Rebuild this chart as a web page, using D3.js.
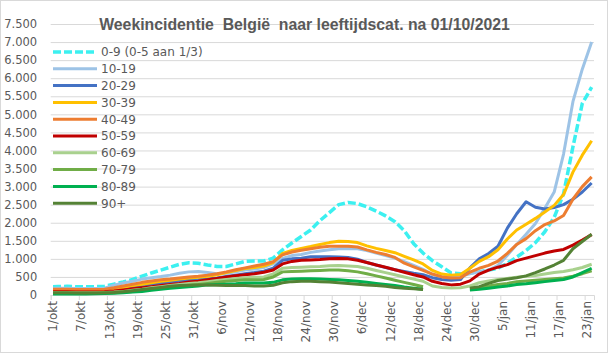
<!DOCTYPE html>
<html>
<head>
<meta charset="utf-8">
<script src="https://cdn.jsdelivr.net/npm/d3@7"></script>
<style>
  body { margin: 0; background: #fff; }
  text { font-family: 'DejaVu Sans', sans-serif; fill: #595959; }
</style>
</head>
<body>
<div class="board"></div>
<script>
// sample days (0 = 1/okt), every other day
var days = [0].concat(d3.range(1, 116, 2));

var tickLabels = ['1/okt', '7/okt', '13/okt', '19/okt', '25/okt', '31/okt', '6/nov', '12/nov', '18/nov', '24/nov',
  '30/nov', '6/dec', '12/dec', '18/dec', '24/dec', '30/dec', '5/jan', '11/jan', '17/jan', '23/jan'];

var yTicks = [0, 500, 1000, 1500, 2000, 2500, 3000, 3500, 4000, 4500, 5000, 5500, 6000, 6500, 7000, 7500];

var ageGroups = ['0-9 (0-5 aan 1/3)', '10-19', '20-29', '30-39', '40-49', '50-59', '60-69', '70-79', '80-89', '90+'];

var age0_9 = [230, 235, 240, 230, 225, 230, 240, 300, 360, 430,
  520, 610, 690, 770, 850, 890, 880, 830, 790, 790,
  860, 930, 940, 940, 1020, 1250, 1440, 1620, 1800, 2060,
  2280, 2500, 2560, 2530, 2440, 2320, 2190, 2030, 1780, 1420,
  1160, 950, 780, 610, 585, 610, 640, 690, 740, 880,
  1050, 1230, 1450, 1750, 2150, 2800, 4100, 5300, 5750];

var age10_19 = [190, 190, 185, 180, 180, 180, 190, 270, 330, 380,
  440, 480, 510, 550, 600, 640, 650, 620, 590, 600,
  640, 690, 720, 760, 860, 1010, 1090, 1120, 1180, 1220,
  1250, 1280, 1290, 1280, 1230, 1160, 1090, 1020, 920, 820,
  710, 570, 510, 490, 520, 590, 640, 680, 820, 1100,
  1400, 1680, 1980, 2400, 2850, 3900, 5350, 6250, 7000];

var age20_29 = [130, 130, 125, 120, 120, 120, 125, 150, 180, 220,
  260, 300, 330, 360, 390, 410, 420, 440, 470, 510,
  550, 590, 620, 660, 740, 960, 1000, 1020, 1060, 1060,
  1060, 1055, 1040, 990, 900, 830, 760, 700, 650, 600,
  560, 480, 430, 410, 430, 750, 1000, 1150, 1350, 1850,
  2250, 2580, 2430, 2380, 2420, 2500, 2650, 2850, 3100];

var age30_39 = [140, 140, 135, 130, 130, 130, 140, 170, 210, 260,
  300, 340, 380, 410, 440, 470, 490, 520, 560, 620,
  680, 730, 760, 800, 900, 1150, 1230, 1290, 1340, 1400,
  1450, 1490, 1480, 1450, 1360, 1290, 1230, 1170, 1070, 970,
  860, 680, 580, 550, 570, 740, 930, 1060, 1250, 1550,
  1800, 1960, 2120, 2300, 2480, 2780, 3400, 3870, 4270];

var age40_49 = [160, 160, 160, 155, 150, 150, 160, 200, 250, 300,
  350, 390, 420, 440, 470, 500, 520, 550, 590, 640,
  700, 750, 800, 850, 920, 1110, 1190, 1240, 1280, 1320,
  1350, 1350, 1350, 1330, 1250, 1180, 1120, 1040, 880, 780,
  680, 580, 500, 470, 480, 630, 740, 820, 940, 1150,
  1400, 1560, 1780, 1950, 2050, 2200, 2650, 3000, 3270];

var age50_59 = [90, 90, 90, 85, 85, 85, 90, 110, 140, 170,
  200, 230, 260, 290, 320, 360, 380, 420, 460, 500,
  530, 560, 590, 630, 690, 860, 930, 960, 970, 980,
  1000, 1010, 1000, 960, 900, 830, 770, 700, 630, 560,
  500, 380, 320, 280, 300, 390, 580, 690, 770, 840,
  950, 1020, 1090, 1160, 1220, 1260, 1380, 1520, 1670];

var age60_69 = [70, 70, 70, 65, 65, 65, 70, 80, 100, 130,
  160, 200, 230, 260, 290, 320, 340, 370, 400, 430,
  460, 480, 490, 500, 580, 740, 760, 770, 780, 790,
  810, 815, 800, 790, 740, 680, 620, 560, 500, 440,
  380, 250, 210, 195, 200, 250, 340, 390, 430, 460,
  490, 520, 540, 580, 620, 650, 700, 760, 850];

var age70_79 = [50, 50, 50, 50, 50, 50, 55, 60, 80, 100,
  130, 160, 190, 220, 240, 270, 290, 320, 350, 380,
  400, 420, 420, 430, 500, 640, 650, 660, 670, 680,
  690, 690, 670, 640, 590, 530, 470, 410, 350, 290,
  230, null, null, null, null, 180, 210, 250, 290, 320,
  370, 390, 410, 430, 450, 470, 520, 590, 670];

var age80_89 = [30, 30, 30, 30, 30, 35, 40, 50, 60, 80,
  100, 130, 160, 190, 210, 230, 250, 280, 290, 300,
  310, 330, 330, 330, 350, 420, 440, 450, 450, 440,
  430, 420, 400, 380, 350, 320, 290, 260, 220, 190,
  160, null, null, null, null, 140, 160, 190, 220, 250,
  290, 310, 340, 370, 400, 430, 500, 620, 740];

var age90plus = [60, 60, 60, 55, 55, 55, 60, 70, 90, 120,
  150, 180, 210, 240, 260, 270, 280, 280, 270, 260,
  260, 260, 250, 250, 270, 340, 370, 380, 380, 370,
  360, 340, 320, 300, 280, 260, 240, 210, 190, 170,
  150, null, null, null, null, 190, 230, 320, 400, 440,
  480, 530, 620, 720, 830, 960, 1280, 1480, 1680];

var colors = ['#3cf0f0', '#9dc3e6', '#4472c4', '#ffc000', '#ed7d31', '#c00000', '#a9d18e', '#70ad47', '#00b050', '#548235'];

var series = [age0_9, age10_19, age20_29, age30_39, age40_49, age50_59, age60_69, age70_79, age80_89, age90plus]
  .map(function(vals, i) {
    return { name: ageGroups[i], color: colors[i], dashed: i === 0,
      points: vals.map(function(v, j) { return { day: days[j], v: v }; }) };
  });

var width = 608, height = 353;

var svg = d3.select('.board').append('svg')
  .attr('width', width)
  .attr('height', height);

// chart border
svg.append('rect')
  .attr('x', 0.5).attr('y', 0.5)
  .attr('width', width - 1).attr('height', height - 1)
  .attr('fill', '#fff')
  .attr('stroke', '#d9d9d9');

var x = d3.scaleLinear().domain([-0.5, 115.5]).range([50.7, 594]);
var y = d3.scaleLinear().domain([0, 7500]).range([295, 24]);

var nl = d3.formatLocale({ decimal: ',', thousands: '.', grouping: [3], currency: ['', ''] });
var fmt = nl.format(',');

// gridlines + y labels
var yAxis = d3.axisLeft(y)
  .tickValues(yTicks)
  .tickSize(-(x.range()[1] - x.range()[0]))
  .tickFormat(fmt)
  .tickPadding(14);

var gy = svg.append('g')
  .attr('transform', 'translate(' + x.range()[0] + ',0)')
  .call(yAxis);
gy.select('.domain').remove();
gy.selectAll('line').attr('stroke', '#d9d9d9');
gy.selectAll('text')
  .style('font-size', '11.5px')
  .attr('x', -13.5)
  .attr('fill', '#595959');

// x axis: tick marks between categories, labels rotated
var xAxis = d3.axisBottom(x)
  .tickValues(d3.range(-0.5, 115, 6))
  .tickSize(5)
  .tickFormat('');

var gx = svg.append('g')
  .attr('transform', 'translate(0,' + y(0) + ')')
  .call(xAxis);
gx.selectAll('line, path').attr('stroke', '#d9d9d9');

svg.append('g').selectAll('text')
  .data(tickLabels)
  .enter()
  .append('text')
  .attr('transform', function(d, i) { return 'translate(' + x(i * 6) + ',' + (y(0) + 6) + ') rotate(-90)'; })
  .attr('text-anchor', 'end')
  .attr('dy', '0.36em')
  .style('font-size', '12px')
  .text(function(d) { return d; });

// lines
var line = d3.line()
  .defined(function(d) { return d.v != null; })
  .x(function(d) { return x(d.day); })
  .y(function(d) { return y(d.v); });

svg.append('g').selectAll('path')
  .data(series)
  .enter()
  .append('path')
  .attr('d', function(d) { return line(d.points); })
  .attr('fill', 'none')
  .attr('stroke', function(d) { return d.color; })
  .attr('stroke-width', function(d) { return d.dashed ? 3.5 : 3; })
  .attr('stroke-dasharray', function(d) { return d.dashed ? '8,3' : null; })
  .attr('stroke-linejoin', 'round');

// title
svg.append('text')
  .attr('x', 304.5)
  .attr('y', 30)
  .attr('text-anchor', 'middle')
  .style('white-space', 'pre')
  .style('font-family', "'Liberation Sans', Arial, sans-serif")
  .style('font-weight', 'bold')
  .style('font-size', '15.8px')
  .text('Weekincidentie  België  naar leeftijdscat. na 01/10/2021');

// legend
var legend = svg.append('g').selectAll('g')
  .data(series)
  .enter()
  .append('g')
  .attr('transform', function(d, i) { return 'translate(53,' + (52 + i * 16.8) + ')'; });

legend.append('line')
  .attr('x1', 0).attr('x2', 44)
  .attr('stroke', function(d) { return d.color; })
  .attr('stroke-width', function(d) { return d.dashed ? 3.5 : 3; })
  .attr('stroke-dasharray', function(d) { return d.dashed ? '8,3' : null; });

legend.append('text')
  .attr('x', 48)
  .attr('dy', '0.36em')
  .style('font-size', '12px')
  .text(function(d) { return d.name; });
</script>
</body>
</html>
